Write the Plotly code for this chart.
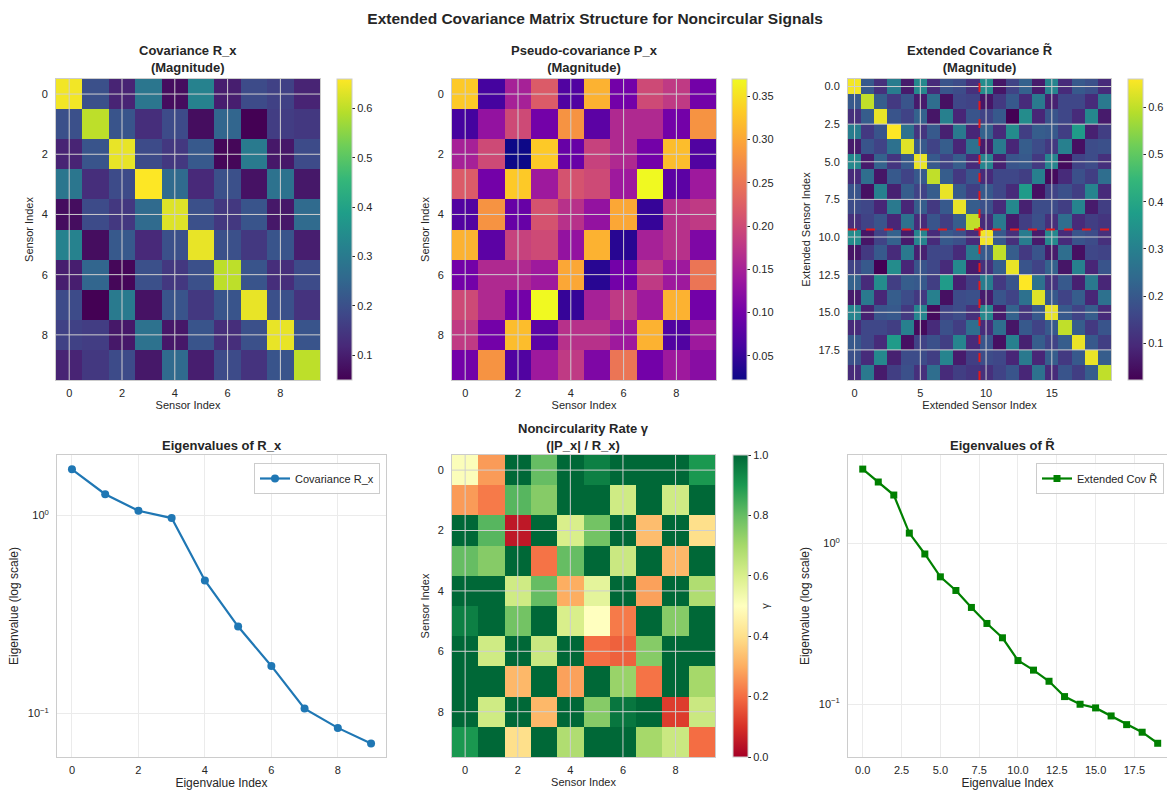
import plotly.graph_objects as go
import plotly.express as px

# ---------------- data ----------------
sensor_idx = list(range(10))
ext_idx = list(range(20))

R_mag = [
    [0.65, 0.20, 0.11, 0.29, 0.07, 0.32, 0.10, 0.19, 0.17, 0.11],
    [0.20, 0.60, 0.21, 0.13, 0.19, 0.07, 0.25, 0.05, 0.16, 0.15],
    [0.11, 0.21, 0.64, 0.19, 0.15, 0.22, 0.06, 0.30, 0.09, 0.19],
    [0.29, 0.13, 0.19, 0.66, 0.26, 0.12, 0.20, 0.08, 0.28, 0.09],
    [0.07, 0.19, 0.15, 0.26, 0.63, 0.20, 0.15, 0.21, 0.09, 0.26],
    [0.32, 0.07, 0.22, 0.12, 0.20, 0.64, 0.20, 0.15, 0.21, 0.10],
    [0.10, 0.25, 0.06, 0.20, 0.15, 0.20, 0.60, 0.21, 0.13, 0.19],
    [0.19, 0.05, 0.30, 0.08, 0.21, 0.15, 0.21, 0.64, 0.20, 0.14],
    [0.17, 0.16, 0.09, 0.28, 0.09, 0.21, 0.13, 0.20, 0.64, 0.21],
    [0.11, 0.15, 0.19, 0.09, 0.26, 0.10, 0.19, 0.14, 0.21, 0.60],
]

P_mag = [
    [0.33, 0.06, 0.15, 0.22, 0.07, 0.31, 0.10, 0.20, 0.18, 0.10],
    [0.06, 0.13, 0.20, 0.10, 0.28, 0.08, 0.16, 0.16, 0.10, 0.28],
    [0.15, 0.20, 0.022, 0.33, 0.09, 0.19, 0.16, 0.10, 0.32, 0.07],
    [0.22, 0.10, 0.33, 0.14, 0.21, 0.20, 0.14, 0.37, 0.08, 0.14],
    [0.07, 0.28, 0.09, 0.21, 0.17, 0.13, 0.30, 0.05, 0.17, 0.18],
    [0.31, 0.08, 0.19, 0.20, 0.13, 0.31, 0.04, 0.15, 0.17, 0.11],
    [0.10, 0.16, 0.16, 0.14, 0.30, 0.04, 0.10, 0.18, 0.14, 0.25],
    [0.20, 0.16, 0.10, 0.37, 0.05, 0.15, 0.18, 0.14, 0.31, 0.10],
    [0.18, 0.10, 0.32, 0.08, 0.17, 0.17, 0.14, 0.31, 0.07, 0.14],
    [0.10, 0.28, 0.07, 0.14, 0.18, 0.11, 0.25, 0.10, 0.14, 0.12],
]

gamma = [
    [0.51, 0.27, 1.00, 0.80, 1.00, 0.95, 1.00, 1.00, 1.00, 0.90],
    [0.27, 0.22, 0.82, 0.75, 1.00, 1.00, 0.62, 1.00, 0.62, 1.00],
    [1.00, 0.82, 0.05, 1.00, 0.60, 0.78, 1.00, 0.33, 1.00, 0.40],
    [0.80, 0.75, 1.00, 0.21, 0.80, 1.00, 0.63, 1.00, 0.32, 1.00],
    [1.00, 1.00, 0.62, 0.80, 0.30, 0.57, 1.00, 0.28, 1.00, 0.68],
    [0.95, 1.00, 0.78, 1.00, 0.60, 0.50, 0.22, 1.00, 0.75, 1.00],
    [1.00, 0.62, 1.00, 0.63, 1.00, 0.20, 0.18, 0.75, 1.00, 1.00],
    [1.00, 1.00, 0.32, 1.00, 0.28, 1.00, 0.72, 0.21, 1.00, 0.70],
    [1.00, 0.62, 1.00, 0.32, 1.00, 0.75, 0.97, 1.00, 0.12, 0.63],
    [0.90, 1.00, 0.40, 1.00, 0.68, 1.00, 1.00, 0.70, 0.63, 0.20],
]

eig_R = [1.71, 1.28, 1.056, 0.97, 0.47, 0.275, 0.174, 0.106, 0.0847, 0.0706]
eig_ext = [2.90, 2.41, 2.00, 1.16, 0.86, 0.62, 0.51, 0.40, 0.318, 0.259,
           0.187, 0.163, 0.139, 0.1116, 0.100, 0.0949, 0.0846, 0.0747, 0.067, 0.0572]

# extended covariance magnitude [[R, P], [P*, R*]]
ext_mag = [R_mag[i] + P_mag[i] for i in range(10)] + [P_mag[i] + R_mag[i] for i in range(10)]

# tick labels
hm_ticks = [0, 2, 4, 6, 8]
ext_xticks = [0, 5, 10, 15]
ext_yticks = [0, 2.5, 5, 7.5, 10, 12.5, 15, 17.5]
eigR_xticks = [0, 2, 4, 6, 8]
eigE_xticks = [0, 2.5, 5, 7.5, 10, 12.5, 15, 17.5]

# ---------------- styling ----------------
W, H = 1167, 790
FONT = "Liberation Sans, Arial, sans-serif"
TXT = "#262626"
FRAME = "#cccccc"
HM_GRID = "#cfcfcf"
LN_GRID = "#ebebeb"


def ax(i, k):
    return k if i == 1 else f"{k}{i}"


def px_x(a, b):
    return [a / W, b / W]


def px_y(top, bottom):
    return [1 - bottom / H, 1 - top / H]


dom = {
    1: (px_x(56, 320), px_y(79, 380)),
    2: (px_x(452, 716), px_y(79, 380)),
    3: (px_x(848, 1111), px_y(79, 380)),
    4: (px_x(57, 386), px_y(455, 757)),
    5: (px_x(452, 715), px_y(455, 757)),
    6: (px_x(848, 1167), px_y(455, 757)),
}

fig = go.Figure()


def cbar(xpx, row, ticks, fmt, title=None):
    if row == 1:
        yc, ln = 1 - 229.5 / H, 301 / H
    else:
        yc, ln = 1 - 606 / H, 302 / H
    d = dict(
        x=xpx / W, xanchor="left", xpad=0, y=yc, yanchor="middle", len=ln,
        lenmode="fraction", ypad=0, thickness=15, outlinecolor=FRAME,
        outlinewidth=1, ticks="outside", ticklen=3, tickcolor=TXT,
        tickvals=ticks, tickformat=fmt, tickfont=dict(size=11, color=TXT),
    )
    if title:
        d["title"] = dict(text=title, side="right", font=dict(size=11, color=TXT))
    return d


fig.add_trace(go.Heatmap(z=R_mag, x=sensor_idx, y=sensor_idx,
                         colorscale=px.colors.sequential.Viridis,
                         colorbar=cbar(337, 1, [0.1, 0.2, 0.3, 0.4, 0.5, 0.6], ".1f"),
                         xaxis="x", yaxis="y"))
fig.add_trace(go.Heatmap(z=P_mag, x=sensor_idx, y=sensor_idx,
                         colorscale=px.colors.sequential.Plasma,
                         colorbar=cbar(732, 1, [0.05, 0.10, 0.15, 0.20, 0.25, 0.30, 0.35], ".2f"),
                         xaxis="x2", yaxis="y2"))
fig.add_trace(go.Heatmap(z=ext_mag, x=ext_idx, y=ext_idx,
                         colorscale=px.colors.sequential.Viridis,
                         colorbar=cbar(1128, 1, [0.1, 0.2, 0.3, 0.4, 0.5, 0.6], ".1f"),
                         xaxis="x3", yaxis="y3"))
fig.add_trace(go.Scatter(x=list(range(len(eig_R))), y=eig_R, mode="lines+markers",
                         name="Covariance R_x", line=dict(color="#1f77b4", width=2.2),
                         marker=dict(symbol="circle", size=8, color="#1f77b4"),
                         xaxis="x4", yaxis="y4", legend="legend"))
fig.add_trace(go.Heatmap(z=gamma, x=sensor_idx, y=sensor_idx, zmin=0, zmax=1,
                         colorscale=px.colors.diverging.RdYlGn,
                         colorbar=cbar(733, 2, [0, 0.2, 0.4, 0.6, 0.8, 1.0], ".1f", "γ"),
                         xaxis="x5", yaxis="y5"))
fig.add_trace(go.Scatter(x=list(range(len(eig_ext))), y=eig_ext, mode="lines+markers",
                         name="Extended Cov R\u0303", line=dict(color="#008000", width=2.2),
                         marker=dict(symbol="square", size=7, color="#008000"),
                         xaxis="x6", yaxis="y6", legend="legend2"))

tickfont = dict(size=11, color=TXT, family=FONT)


def hm_axes(i, xt, yt, n, xtitle, ytitle, yfmt=None):
    xa = dict(domain=dom[i][0], anchor=ax(i, "y"), range=[-0.5, n - 0.5],
              tickvals=xt, showgrid=False, zeroline=False, showline=True,
              mirror=True, linecolor=FRAME, linewidth=1, ticks="outside",
              ticklen=3, tickcolor="rgba(0,0,0,0)", tickfont=tickfont,
              title=dict(text=xtitle, font=dict(size=11, color=TXT), standoff=3))
    ya = dict(domain=dom[i][1], anchor=ax(i, "x"), range=[n - 0.5, -0.5],
              tickvals=yt, showgrid=False, zeroline=False, showline=True,
              mirror=True, linecolor=FRAME, linewidth=1, ticks="outside",
              ticklen=5, tickcolor="rgba(0,0,0,0)", tickfont=tickfont,
              title=dict(text=ytitle, font=dict(size=11, color=TXT), standoff=5))
    if yfmt:
        ya["tickformat"] = yfmt
    return xa, ya


def ln_axes(i, xt, xfmt, xr, yr, xtitle, ytitle):
    xa = dict(domain=dom[i][0], anchor=ax(i, "y"), range=xr, tickvals=xt,
              tickformat=xfmt, showgrid=True, gridcolor=LN_GRID, gridwidth=1,
              zeroline=False, showline=True, mirror=True, linecolor=FRAME,
              ticks="outside", ticklen=3, tickcolor="rgba(0,0,0,0)",
              tickfont=tickfont,
              title=dict(text=xtitle, font=dict(size=12, color=TXT), standoff=2))
    ya = dict(domain=dom[i][1], anchor=ax(i, "x"), type="log", range=yr,
              tickvals=[0.1, 1], ticktext=["10<sup>\u22121</sup>", "10<sup>0</sup>"],
              showgrid=True, gridcolor=LN_GRID, gridwidth=1, zeroline=False,
              showline=True, mirror=True, linecolor=FRAME, ticks="outside",
              ticklen=5, tickcolor="rgba(0,0,0,0)", tickfont=tickfont,
              title=dict(text=ytitle, font=dict(size=12, color=TXT), standoff=6))
    return xa, ya


x1, y1 = hm_axes(1, hm_ticks, hm_ticks, 10, "Sensor Index", "Sensor Index")
x2, y2 = hm_axes(2, hm_ticks, hm_ticks, 10, "Sensor Index", "Sensor Index")
x3, y3 = hm_axes(3, ext_xticks, ext_yticks, 20, "Extended Sensor Index",
                 "Extended Sensor Index", ".1f")
x4, y4 = ln_axes(4, eigR_xticks, None, [-0.45, 9.45], [-1.219, 0.305],
                 "Eigenvalue Index", "Eigenvalue (log scale)")
x5, y5 = hm_axes(5, hm_ticks, hm_ticks, 10, "Sensor Index", "Sensor Index")
x6, y6 = ln_axes(6, eigE_xticks, ".1f", [-0.95, 19.6], [-1.328, 0.55],
                 "Eigenvalue Index", "Eigenvalue (log scale)")

# grid lines drawn over the heatmaps
shapes = []
for i, xt, yt in [(1, hm_ticks, hm_ticks), (2, hm_ticks, hm_ticks),
                  (3, ext_xticks, ext_yticks), (5, hm_ticks, hm_ticks)]:
    xr, yr = ax(i, "x"), ax(i, "y")
    for v in xt:
        shapes.append(dict(type="line", xref=xr, yref=f"{yr} domain",
                           x0=v, x1=v, y0=0, y1=1, layer="above",
                           line=dict(color=HM_GRID, width=1)))
    for v in yt:
        shapes.append(dict(type="line", xref=f"{xr} domain", yref=yr,
                           x0=0, x1=1, y0=v, y1=v, layer="above",
                           line=dict(color=HM_GRID, width=1)))
# block separators in the extended covariance
shapes.append(dict(type="line", xref="x3", yref="y3 domain", x0=9.5, x1=9.5, y0=0, y1=1,
                   layer="above", line=dict(color="#e31a1c", width=2, dash="dash")))
shapes.append(dict(type="line", xref="x3 domain", yref="y3", x0=0, x1=1, y0=9.5, y1=9.5,
                   layer="above", line=dict(color="#e31a1c", width=2, dash="dash")))

# subplot titles
titles = [
    (1, "Covariance R_x<br>(Magnitude)", 77),
    (2, "Pseudo-covariance P_x<br>(Magnitude)", 77),
    (3, "Extended Covariance R\u0303<br>(Magnitude)", 77),
    (4, "Eigenvalues of R_x", 455),
    (5, "Noncircularity Rate \u03b3<br>(|P_x| / R_x)", 455),
    (6, "Eigenvalues of R\u0303", 455),
]
annotations = []
for i, t, ybot in titles:
    xd = dom[i][0]
    xc = (xd[0] + xd[1]) / 2
    if i == 6:
        xc = (848 + 1157) / 2 / W
    lines = t.split("<br>")
    annotations.append(dict(text="<br>".join(f"<b>{l}</b>" for l in lines),
                            x=xc, y=1 - ybot / H, xref="paper", yref="paper",
                            xanchor="center", yanchor="bottom", showarrow=False,
                            font=dict(size=13, color=TXT, family=FONT)))

fig.update_layout(
    width=W, height=H,
    margin=dict(l=0, r=0, t=0, b=0, autoexpand=False),
    paper_bgcolor="white", plot_bgcolor="white",
    font=dict(family=FONT, color=TXT),
    title=dict(text="<b>Extended Covariance Matrix Structure for Noncircular Signals</b>",
               x=0.51, xanchor="center", y=1 - 19 / H, yanchor="middle",
               font=dict(size=15.5, color=TXT, family=FONT)),
    xaxis=x1, yaxis=y1, xaxis2=x2, yaxis2=y2, xaxis3=x3, yaxis3=y3,
    xaxis4=x4, yaxis4=y4, xaxis5=x5, yaxis5=y5, xaxis6=x6, yaxis6=y6,
    shapes=shapes, annotations=annotations,
    legend=dict(x=380 / W, xanchor="right", y=1 - 463 / H, yanchor="top",
                bordercolor=FRAME, borderwidth=1, bgcolor="rgba(255,255,255,0.85)",
                font=dict(size=11, color=TXT)),
    legend2=dict(x=1164 / W, xanchor="right", y=1 - 463 / H, yanchor="top",
                 bordercolor=FRAME, borderwidth=1, bgcolor="rgba(255,255,255,0.85)",
                 font=dict(size=11, color=TXT)),
    showlegend=True,
)

fig.write_html("out.html")
